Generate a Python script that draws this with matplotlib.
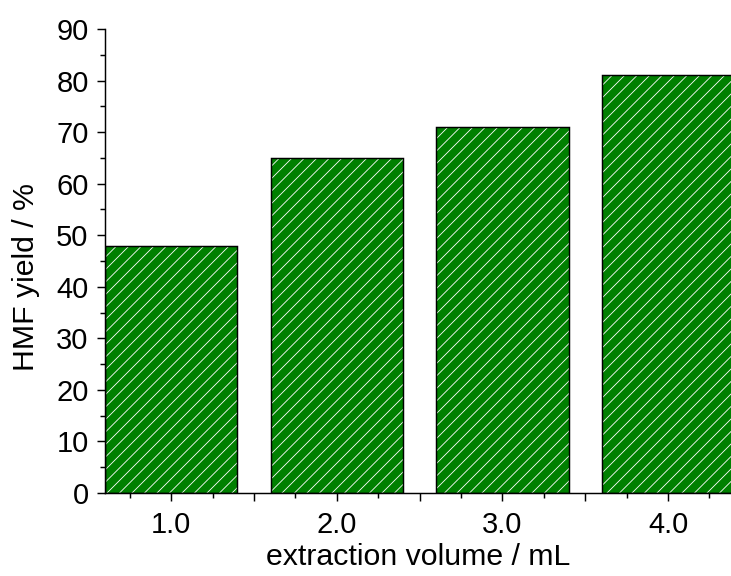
import matplotlib
matplotlib.use('Agg')
import matplotlib.pyplot as plt
from matplotlib.ticker import MultipleLocator, FuncFormatter

volume = [1.0, 2.0, 3.0, 4.0]
hmf_yield = [48, 65, 71, 81]

DPI = 75
plt.rcParams['font.family'] = 'Liberation Sans'
plt.rcParams['hatch.linewidth'] = 0.8

fig = plt.figure(figsize=(731 / DPI, 576 / DPI), dpi=DPI)
ax = fig.add_axes([105 / 731, 1 - 493 / 576, 1 - 105 / 731, (493 - 29) / 576])

# green fill with white hatch lines, then the black outline on top
ax.bar(volume, hmf_yield, width=0.8, color='#008000', edgecolor='white',
       linewidth=0, hatch='//')
ax.bar(volume, hmf_yield, width=0.8, fill=False, edgecolor='black',
       linewidth=1.4)

ax.set_xlim(0.6, 4.38)
ax.set_ylim(0, 90)

for s in ['top', 'right']:
    ax.spines[s].set_visible(False)
for s in ['left', 'bottom']:
    ax.spines[s].set_linewidth(1.4)

ax.xaxis.set_major_locator(MultipleLocator(0.5))
ax.xaxis.set_minor_locator(MultipleLocator(0.25))
ax.xaxis.set_major_formatter(FuncFormatter(lambda v, p: '%.1f' % v if abs(v - round(v)) < 1e-6 else ''))
ax.yaxis.set_major_locator(MultipleLocator(10))
ax.yaxis.set_minor_locator(MultipleLocator(5))

ax.tick_params(which='major', direction='out', length=7.7, width=1.4, labelsize=28, pad=8)
ax.tick_params(axis='x', which='major', pad=10)
ax.tick_params(which='minor', direction='out', length=4.8, width=1.4)

ax.set_xlabel('extraction volume / mL', fontsize=29, labelpad=3)
ax.set_ylabel('HMF yield / %', fontsize=29)
ax.yaxis.set_label_coords(-0.104, 0.465)

fig.savefig('out.png', dpi=DPI)
